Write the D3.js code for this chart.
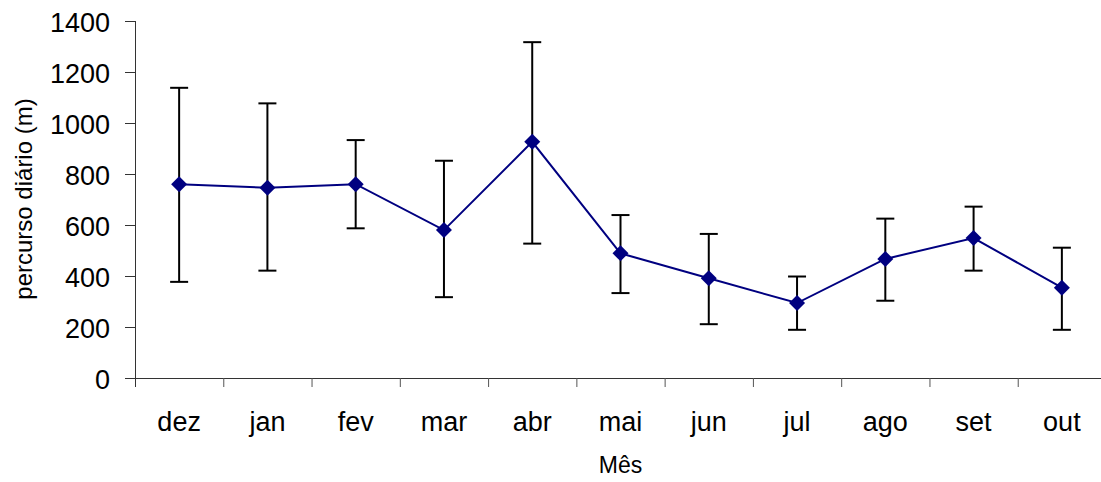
<!DOCTYPE html>
<html>
<head>
<meta charset="utf-8">
<script src="https://cdn.jsdelivr.net/npm/d3@7"></script>
<style>
  body { margin: 0; background: #fff; }
  text { font-family: "Liberation Sans", Arial, sans-serif; fill: #000; }
</style>
</head>
<body>
<div id="chart"></div>
<script>
const width = 1101;
const height = 482;
const margin = { top: 21, right: -5, bottom: 104, left: 135 };

// data
const months = ["dez", "jan", "fev", "mar", "abr", "mai", "jun", "jul", "ago", "set", "out"];
const meanValues = [760, 746, 760, 580, 926, 489, 391, 294, 467, 549, 354];
const upperValues = [1138, 1077, 933, 852, 1317, 639, 565, 398, 625, 672, 511];
const lowerValues = [377, 421, 587, 317, 527, 333, 211, 189, 303, 421, 189];
const yTicks = [0, 200, 400, 600, 800, 1000, 1200, 1400];

const svg = d3.select("#chart")
    .append("svg")
    .attr("width", width)
    .attr("height", height);

const x = d3.scaleBand()
    .domain(months)
    .range([margin.left, width - margin.right]);

const y = d3.scaleLinear()
    .domain([0, 1400])
    .range([height - margin.bottom, margin.top]);

const cx = d => x(d) + x.bandwidth() / 2;

// y axis
const yAxis = svg.append("g")
    .attr("transform", `translate(${margin.left},0)`)
    .call(d3.axisLeft(y).tickValues(yTicks).tickFormat(d3.format("d"))
        .tickSize(10).tickPadding(15).tickSizeOuter(0));
yAxis.select(".domain").attr("stroke", "#333").attr("d", `M0.5,${margin.top}V${y(0) + 9}`);
yAxis.selectAll(".tick line").attr("stroke", "#333");
yAxis.selectAll(".tick text")
    .attr("font-size", 27)
    .attr("dy", "0.4em");

// x axis, ticks sit on band boundaries
const xAxis = svg.append("g")
    .attr("transform", `translate(0,${y(0)})`)
    .call(d3.axisBottom(x).tickSize(0).tickPadding(34));
xAxis.select(".domain").attr("stroke", "#333");
xAxis.selectAll(".tick text").attr("font-size", 27);
svg.append("g")
    .selectAll("line")
    .data(months.slice(1))
    .join("line")
    .attr("x1", d => x(d) + 0.5)
    .attr("x2", d => x(d) + 0.5)
    .attr("y1", y(0))
    .attr("y2", y(0) + 9)
    .attr("stroke", "#555");

// axis titles
svg.append("text")
    .attr("x", (margin.left + width - margin.right) / 2)
    .attr("y", 473)
    .attr("text-anchor", "middle")
    .attr("font-size", 23)
    .text("Mês");

svg.append("text")
    .attr("transform", `translate(32,${199}) rotate(-90)`)
    .attr("text-anchor", "middle")
    .attr("font-size", 24)
    .text("percurso diário (m)");

// error bars
const bars = svg.append("g")
    .attr("stroke", "#000")
    .attr("stroke-width", 2);

bars.selectAll(".stem")
    .data(months)
    .join("line")
    .attr("x1", d => cx(d))
    .attr("x2", d => cx(d))
    .attr("y1", (d, i) => y(upperValues[i]))
    .attr("y2", (d, i) => y(lowerValues[i]));

bars.selectAll(".capTop")
    .data(months)
    .join("line")
    .attr("x1", d => cx(d) - 9)
    .attr("x2", d => cx(d) + 9)
    .attr("y1", (d, i) => y(upperValues[i]))
    .attr("y2", (d, i) => y(upperValues[i]));

bars.selectAll(".capBottom")
    .data(months)
    .join("line")
    .attr("x1", d => cx(d) - 9)
    .attr("x2", d => cx(d) + 9)
    .attr("y1", (d, i) => y(lowerValues[i]))
    .attr("y2", (d, i) => y(lowerValues[i]));

// mean line
const line = d3.line()
    .x((d, i) => cx(months[i]))
    .y(d => y(d));

svg.append("path")
    .datum(meanValues)
    .attr("d", line)
    .attr("fill", "none")
    .attr("stroke", "#000080")
    .attr("stroke-width", 2);

// diamond markers
svg.append("g")
    .selectAll("path")
    .data(meanValues)
    .join("path")
    .attr("transform", (d, i) => `translate(${cx(months[i])},${y(d)})`)
    .attr("d", "M0,-8L8,0L0,8L-8,0Z")
    .attr("fill", "#000080");
</script>
</body>
</html>
